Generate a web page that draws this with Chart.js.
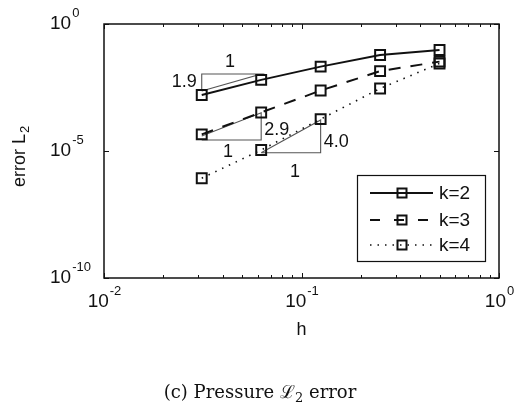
<!DOCTYPE html>
<html>
<head>
<meta charset="utf-8">
<script src="https://cdn.jsdelivr.net/npm/chart.js@4.4.0/dist/chart.umd.min.js"></script>
<style>
  html, body { margin: 0; padding: 0; background: #fff; }
  #wrap { width: 514px; height: 409px; }
</style>
</head>
<body>
<div id="wrap"><canvas id="c" width="514" height="409"></canvas></div>
<script>
// mesh sizes and errors
var h = [0.03125, 0.0625, 0.125, 0.25, 0.5];
var errK2 = [1.6e-3, 6.3e-3, 2.1e-2, 6.0e-2, 9.5e-2];
var errK3 = [4.5e-5, 3.3e-4, 2.4e-3, 1.4e-2, 3.3e-2];
var errK4 = [8.5e-7, 1.1e-5, 1.8e-4, 2.9e-3, 2.8e-2];
var seriesLabels = ['k=2', 'k=3', 'k=4'];
var xTickExp = [-2, -1, 0];
var yTickExp = [-10, -5, 0];

// slope triangles (x, y pairs)
var tri2x = [0.03125, 0.0625, 0.03125, 0.03125];
var tri2y = [2.3e-3, 1.07e-2, 1.07e-2, 2.3e-3];
var tri3x = [0.03125, 0.0625, 0.0625, 0.03125];
var tri3y = [2.7e-5, 2.7e-5, 3.2e-4, 3.9e-5];
var tri4x = [0.0625, 0.125, 0.125, 0.0625];
var tri4y = [8.5e-6, 8.5e-6, 1.66e-4, 8.5e-6];

// slope labels: text, x, y, alignment
var slopeText = ['1', '1.9', '2.9', '1', '4.0', '1'];
var slopeX = [0.0435, 0.03125, 0.0625, 0.0425, 0.125, 0.0927];
var slopeY = [3.2e-2, 5.2e-3, 6.7e-5, 9.1e-6, 2.25e-5, 1.5e-6];
var slopeAlign = ['center', 'right', 'left', 'center', 'left', 'center'];

var styles = [
  { dash: [], width: 2 },
  { dash: [12, 10], width: 2 },
  { dash: [1.5, 6], width: 1.6 }
];

function pts(xs, ys) {
  return xs.map(function (x, i) { return { x: x, y: ys[i] }; });
}

function series(label, ys, st) {
  return {
    label: label,
    data: pts(h, ys),
    borderColor: '#111',
    borderWidth: st.width,
    borderDash: st.dash,
    pointStyle: 'rect',
    pointRadius: 7,
    pointBorderWidth: 2,
    pointBorderColor: '#111',
    pointBackgroundColor: 'rgba(0,0,0,0)',
    tension: 0,
    fill: false
  };
}

function triangle(xs, ys) {
  return {
    label: '',
    data: pts(xs, ys),
    borderColor: '#555',
    borderWidth: 1.1,
    pointRadius: 0,
    tension: 0,
    fill: false
  };
}

var FONT = '"Liberation Sans", Arial, sans-serif';
var SERIF = '"DejaVu Serif", "Liberation Serif", serif';

function drawPow(ctx, exp, x, y, align) {
  ctx.font = '19px ' + FONT;
  var wb = ctx.measureText('10').width;
  ctx.font = '13px ' + FONT;
  var we = ctx.measureText(String(exp)).width;
  var left = x;
  if (align === 'center') left = x - (wb + we) / 2;
  ctx.textAlign = 'left';
  ctx.textBaseline = 'middle';
  ctx.font = '19px ' + FONT;
  ctx.fillText('10', left, y);
  ctx.font = '13px ' + FONT;
  ctx.fillText(String(exp), left + wb + 1, y - 11);
}

var decor = {
  id: 'decor',
  afterDatasetsDraw: function (chart) {
    var ctx = chart.ctx, a = chart.chartArea;
    var xs = chart.scales.x, ys = chart.scales.y;
    ctx.save();
    ctx.fillStyle = '#111';
    ctx.strokeStyle = '#111';

    // slope labels
    ctx.font = '18px ' + FONT;
    ctx.textBaseline = 'middle';
    slopeText.forEach(function (t, i) {
      var px = xs.getPixelForValue(slopeX[i]);
      var py = ys.getPixelForValue(slopeY[i]);
      ctx.textAlign = slopeAlign[i];
      if (slopeAlign[i] === 'right') px -= 5;
      if (slopeAlign[i] === 'left') px += 3;
      ctx.fillText(t, px, py);
    });

    // frame
    ctx.lineWidth = 1.5;
    ctx.strokeRect(a.left, a.top, a.right - a.left, a.bottom - a.top);

    // x ticks (major and minor, inward, top and bottom)
    ctx.lineWidth = 1;
    for (var e = -2; e <= 0; e++) {
      for (var m = 1; m <= 9; m++) {
        var v = m * Math.pow(10, e);
        if (v > 1) break;
        var px = Math.round(xs.getPixelForValue(v)) + 0.5;
        var len = m === 1 ? 5 : 3;
        ctx.beginPath();
        ctx.moveTo(px, a.bottom); ctx.lineTo(px, a.bottom - len);
        ctx.moveTo(px, a.top); ctx.lineTo(px, a.top + len);
        ctx.stroke();
      }
    }
    // y ticks
    yTickExp.forEach(function (ex) {
      var py = Math.round(ys.getPixelForValue(Math.pow(10, ex))) + 0.5;
      ctx.beginPath();
      ctx.moveTo(a.left, py); ctx.lineTo(a.left + 5, py);
      ctx.moveTo(a.right, py); ctx.lineTo(a.right - 5, py);
      ctx.stroke();
    });

    // tick labels
    yTickExp.forEach(function (ex) {
      drawPow(ctx, ex, 50, ys.getPixelForValue(Math.pow(10, ex)), 'left');
    });
    xTickExp.forEach(function (ex) {
      drawPow(ctx, ex, xs.getPixelForValue(Math.pow(10, ex)), a.bottom + 24, 'center');
    });

    // axis titles
    ctx.font = '18px ' + FONT;
    ctx.textAlign = 'center';
    ctx.textBaseline = 'alphabetic';
    ctx.fillText('h', (a.left + a.right) / 2, 335);

    ctx.save();
    ctx.translate(25, 157);
    ctx.rotate(-Math.PI / 2);
    ctx.font = '18px ' + FONT;
    var w1 = ctx.measureText('error L').width;
    ctx.font = '13px ' + FONT;
    var w2 = ctx.measureText('2').width;
    ctx.textAlign = 'left';
    ctx.font = '18px ' + FONT;
    ctx.fillText('error L', -(w1 + w2) / 2, 0);
    ctx.font = '13px ' + FONT;
    ctx.fillText('2', -(w1 + w2) / 2 + w1 + 1, 4);
    ctx.restore();

    // caption
    var big = '18px ' + SERIF, small = '13px ' + SERIF;
    ctx.font = big;
    var c1 = '(c) Pressure ', c2 = '\u2112', c3 = ' error';
    var wa = ctx.measureText(c1).width, wb2 = ctx.measureText(c2).width, wc = ctx.measureText(c3).width;
    ctx.font = small;
    var ws = ctx.measureText('2').width;
    var cx = 260 - (wa + wb2 + ws + wc) / 2;
    ctx.textAlign = 'left';
    ctx.font = big;
    ctx.fillText(c1, cx, 398);
    ctx.fillText(c2, cx + wa, 398);
    ctx.font = small;
    ctx.fillText('2', cx + wa + wb2, 402);
    ctx.font = big;
    ctx.fillText(c3, cx + wa + wb2 + ws, 398);

    // legend
    var lx = 357, ly = 175, lw = 128, lh = 86;
    ctx.fillStyle = '#fff';
    ctx.fillRect(lx, ly, lw, lh);
    ctx.lineWidth = 1.2;
    ctx.strokeRect(lx + 0.5, ly + 0.5, lw, lh);
    var rows = [193, 220, 245];
    seriesLabels.forEach(function (lab, i) {
      var ry = rows[i];
      ctx.strokeStyle = '#111';
      ctx.lineWidth = styles[i].width;
      ctx.setLineDash(styles[i].dash.length ? (i === 1 ? [10, 14] : [1.5, 6]) : []);
      ctx.beginPath();
      ctx.moveTo(370, ry); ctx.lineTo(433, ry);
      ctx.stroke();
      ctx.setLineDash([]);
      ctx.lineWidth = 2;
      var s = 9;
      ctx.strokeRect(402 - s / 2, ry - s / 2, s, s);
      ctx.fillStyle = '#111';
      ctx.font = '19px ' + FONT;
      ctx.textAlign = 'left';
      ctx.textBaseline = 'middle';
      ctx.fillText(lab, 439, ry + 1);
    });
    ctx.restore();
  }
};

new Chart(document.getElementById('c'), {
  type: 'line',
  data: {
    datasets: [
      series(seriesLabels[0], errK2, styles[0]),
      series(seriesLabels[1], errK3, styles[1]),
      series(seriesLabels[2], errK4, styles[2]),
      triangle(tri2x, tri2y),
      triangle(tri3x, tri3y),
      triangle(tri4x, tri4y)
    ]
  },
  options: {
    responsive: false,
    animation: false,
    layout: { padding: { left: 104, top: 24, right: 15, bottom: 131 } },
    plugins: { legend: { display: false }, tooltip: { enabled: false } },
    scales: {
      x: { type: 'logarithmic', min: 0.01, max: 1, display: false },
      y: { type: 'logarithmic', min: 1e-10, max: 1, display: false }
    }
  },
  plugins: [decor]
});
</script>
</body>
</html>
